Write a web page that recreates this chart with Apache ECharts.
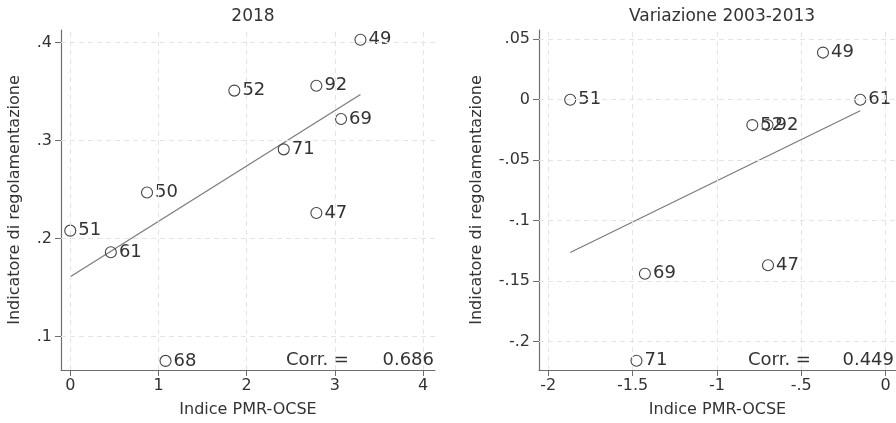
<!DOCTYPE html>
<html>
<head>
<meta charset="utf-8">
<script src="https://cdn.jsdelivr.net/npm/echarts@6/dist/echarts.min.js"></script>
<style>html,body{margin:0;padding:0;background:#fff}#c{width:896px;height:423px}</style>
</head>
<body>
<div id="c"></div>
<script>
// ---- Panel 1: 2018 ----
const labels18 = ['49','52','92','69','71','50','51','61','47','68'];
const x18 = [3.29, 1.86, 2.79, 3.07, 2.42, 0.87, 0.00, 0.46, 2.79, 1.08];
const y18 = [0.403, 0.351, 0.356, 0.322, 0.291, 0.247, 0.208, 0.186, 0.226, 0.075];
const fitX18 = [0, 3.29];
const fitY18 = [0.161, 0.347];
const xTicks18 = [0, 1, 2, 3, 4];
const yTicks18 = [0.1, 0.2, 0.3, 0.4];
const corr18 = '0.686';

// ---- Panel 2: Variazione 2003-2013 ----
const labelsVar = ['49','51','61','52','92','47','69','71'];
const xVar = [-0.371, -1.87, -0.15, -0.79, -0.70, -0.697, -1.427, -1.477];
const yVar = [0.039, 0.0, 0.0, -0.021, -0.021, -0.137, -0.144, -0.216];
const fitXVar = [-1.87, -0.15];
const fitYVar = [-0.1265, -0.0091];
const xTicksVar = [-2, -1.5, -1, -0.5, 0];
const yTicksVar = [-0.2, -0.15, -0.1, -0.05, 0, 0.05];
const corrVar = '0.449';

const titles = ['2018', 'Variazione 2003-2013'];
const xName = 'Indice PMR-OCSE';
const yName = 'Indicatore di regolamentazione';
const corrLabel = 'Corr. =';

const FONT = 'DejaVu Sans';
const TXT = '#333333';
const AX = '#6e6e6e';
const GRIDC = '#e4e4e4';

function fmt(v) {
  let s = String(+(+v).toFixed(4));
  s = s.replace(/^0\./, '.').replace(/^-0\./, '-.');
  return s;
}

function xAxisDef(gi, min, max, ticks) {
  return {
    type: 'value', gridIndex: gi, min: min, max: max,
    name: xName, nameLocation: 'middle', nameGap: 32,
    nameTextStyle: {fontFamily: FONT, fontSize: 16, color: TXT},
    axisLine: {show: true, onZero: false, lineStyle: {color: AX, width: 1.2}},
    axisTick: {show: true, customValues: ticks, length: 6, lineStyle: {color: AX}},
    axisLabel: {customValues: ticks, formatter: fmt, margin: 8, fontFamily: FONT, fontSize: 16, color: TXT},
    splitLine: {show: false}
  };
}
function yAxisDef(gi, min, max, ticks, gap) {
  return {
    type: 'value', gridIndex: gi, min: min, max: max,
    name: yName, nameLocation: 'middle', nameGap: gap, nameRotate: 90,
    nameTextStyle: {fontFamily: FONT, fontSize: 16, color: TXT},
    axisLine: {show: true, onZero: false, lineStyle: {color: AX, width: 1.2}},
    axisTick: {show: true, customValues: ticks, length: 6, lineStyle: {color: AX}},
    axisLabel: {customValues: ticks, formatter: fmt, margin: 9, fontFamily: FONT, fontSize: 16, color: TXT},
    splitLine: {show: false}
  };
}
function gridLines(gi, xt, yt) {
  return {
    type: 'line', xAxisIndex: gi, yAxisIndex: gi, data: [], silent: true, z: 1,
    markLine: {
      silent: true, symbol: ['none', 'none'], label: {show: false},
      lineStyle: {color: GRIDC, type: [5, 4], width: 1},
      emphasis: {disabled: true},
      data: xt.map(v => ({xAxis: v})).concat(yt.map(v => ({yAxis: v})))
    }
  };
}
function scatter(gi, xs, ys, labs) {
  return {
    type: 'scatter', xAxisIndex: gi, yAxisIndex: gi, z: 4,
    symbol: 'circle', symbolSize: 11,
    itemStyle: {color: 'rgba(255,255,255,0)', borderColor: '#444444', borderWidth: 1.1, opacity: 1},
    label: {show: true, position: 'right', distance: 2, formatter: p => p.value[2],
            fontFamily: FONT, fontSize: 18, color: TXT, opacity: 1},
    emphasis: {disabled: true},
    data: xs.map((x, i) => [x, ys[i], labs[i]])
  };
}
function fit(gi, xs, ys) {
  return {
    type: 'line', xAxisIndex: gi, yAxisIndex: gi, z: 3, symbol: 'none',
    lineStyle: {color: '#7a7a7a', width: 1.2}, silent: true,
    data: xs.map((x, i) => [x, ys[i]])
  };
}
function txt(x, y, s, align) {
  return {type: 'text', x: x, y: y, z: 10,
          style: {text: s, font: '18px "DejaVu Sans"', fill: TXT, align: align, verticalAlign: 'middle'}};
}

const chart = echarts.init(document.getElementById('c'), null, {renderer: 'canvas'});
chart.setOption({
  backgroundColor: '#fff',
  animation: false,
  title: [
    {text: titles[0], left: 248, top: 3, textAlign: 'center',
     textStyle: {fontFamily: FONT, fontSize: 17, fontWeight: 'normal', color: TXT}},
    {text: titles[1], left: 717, top: 3, textAlign: 'center',
     textStyle: {fontFamily: FONT, fontSize: 17, fontWeight: 'normal', color: TXT}}
  ],
  grid: [
    {left: 61, top: 30, width: 374, height: 341},
    {left: 539, top: 30, width: 357, height: 341}
  ],
  xAxis: [
    xAxisDef(0, -0.105, 4.135, xTicks18),
    xAxisDef(1, -2.055, 0.062, xTicksVar)
  ],
  yAxis: [
    yAxisDef(0, 0.0657, 0.4129, yTicks18, 38),
    yAxisDef(1, -0.2237, 0.0577, yTicksVar, 54)
  ],
  graphic: [
    txt(286, 360, corrLabel, 'left'),
    txt(434, 360, corr18, 'right'),
    txt(748, 360, corrLabel, 'left'),
    txt(894, 360, corrVar, 'right')
  ],
  series: [
    gridLines(0, xTicks18, yTicks18),
    gridLines(1, xTicksVar, yTicksVar),
    fit(0, fitX18, fitY18),
    fit(1, fitXVar, fitYVar),
    scatter(0, x18, y18, labels18),
    scatter(1, xVar, yVar, labelsVar)
  ]
});
</script>
</body>
</html>
